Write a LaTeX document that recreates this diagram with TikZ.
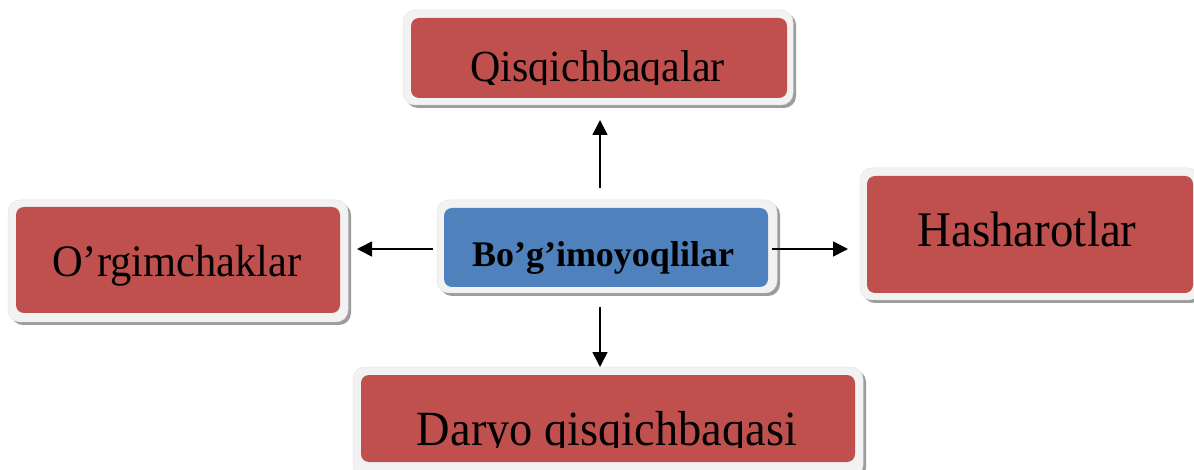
\documentclass[tikz,border=0pt]{standalone}
\usepackage{fontspec}
\setmainfont{Liberation Serif}
\usetikzlibrary{arrows.meta}
\definecolor{boxred}{HTML}{C0504D}
\definecolor{boxblue}{HTML}{4F81BD}
\definecolor{rim}{HTML}{F2F2F2}
\definecolor{rimedge}{HTML}{E6E6E6}
\definecolor{shade}{HTML}{9C9C9C}
\tikzset{
  rimbox/.style={draw=rimedge, line width=0.5pt, fill=rim, rounded corners=12pt, inner sep=0pt, outer sep=0pt},
  shadebox/.style={fill=shade, rounded corners=12pt, inner sep=0pt, outer sep=0pt},
  redfill/.style={fill=boxred, rounded corners=8pt, inner sep=0pt, outer sep=0pt},
  bluefill/.style={fill=boxblue, rounded corners=8pt, inner sep=0pt, outer sep=0pt},
  lbl/.style={anchor=base, inner sep=0pt, text=black},
  arr/.style={-{Triangle[length=15pt,width=15pt]}, line width=1.6pt, black},
}
\newcommand\regtext[2]{\fontsize{#1}{#1}\selectfont\scalebox{1}[1.06]{#2}}
\begin{document}
\begin{tikzpicture}[x=1pt,y=-1pt]
\useasboundingbox (0,0) rectangle (1194,470);
\fill[white] (0,0) rectangle (1194,470);
% shadows
\node[shadebox, minimum width=390pt, minimum height=95pt] (topsh) at (601,60.5) {};
\node[shadebox, minimum width=340pt, minimum height=93pt] (censh) at (610,249.5) {};
\node[shadebox, minimum width=340pt, minimum height=122pt] (lefsh) at (181,264) {};
\node[shadebox, minimum width=340pt, minimum height=132pt] (rigsh) at (1033,237) {};
\node[shadebox, minimum width=510pt, minimum height=110pt] (botsh) at (611,425) {};
% outer rims
\node[rimbox, minimum width=390pt, minimum height=95pt] (top) at (598,57.5) {};
\node[rimbox, minimum width=340pt, minimum height=93pt] (center) at (607,246.5) {};
\node[rimbox, minimum width=340pt, minimum height=122pt] (left) at (178,261) {};
\node[rimbox, minimum width=340pt, minimum height=132pt] (right) at (1030,234) {};
\node[rimbox, minimum width=510pt, minimum height=110pt] (bottom) at (608,422) {};
% inner fills
\node[redfill, minimum width=376pt, minimum height=80pt] (topin) at (599,58) {};
\node[bluefill, minimum width=324pt, minimum height=79pt] (centerin) at (606,247.5) {};
\node[redfill, minimum width=324pt, minimum height=106pt] (leftin) at (178,260) {};
\node[redfill, minimum width=326pt, minimum height=117pt] (rightin) at (1030,234.5) {};
\node[redfill, minimum width=494pt, minimum height=87pt] (bottomin) at (608,418.5) {};
% labels
\begin{scope}
\clip (411,18) rectangle (787,85);
\node[lbl] (toptxt) at (597.5,82) {\regtext{42}{Qisqichbaqalar}};
\end{scope}
\node[lbl] (centertxt) at (603,267) {\fontsize{36}{36}\selectfont\bfseries Bo’g’imoyoqlilar};
\node[lbl] (lefttxt) at (177,277) {\regtext{42.5}{O’rgimchaklar}};
\node[lbl] (righttxt) at (1027,247) {\regtext{47}{Hasharotlar}};
\begin{scope}
\clip (361,375) rectangle (855,447.5);
\node[lbl] (bottomtxt) at (607,445) {\regtext{46.4}{Daryo qisqichbaqasi}};
\end{scope}
% connectors
\coordinate (ax) at (600,0);
\coordinate (ay) at (0,249);
\draw[arr, shorten <=12pt, shorten >=15pt] (center.north -| ax) -- (top.south -| ax);
\draw[arr, shorten <=14pt] (center.south -| ax) -- (bottom.north -| ax);
\draw[arr, shorten <=4pt, shorten >=9pt] (center.west |- ay) -- (left.east |- ay);
\draw[arr, shorten <=4pt, shorten >=12pt] (centerin.east |- ay) -- (right.west |- ay);
\end{tikzpicture}
\end{document}
